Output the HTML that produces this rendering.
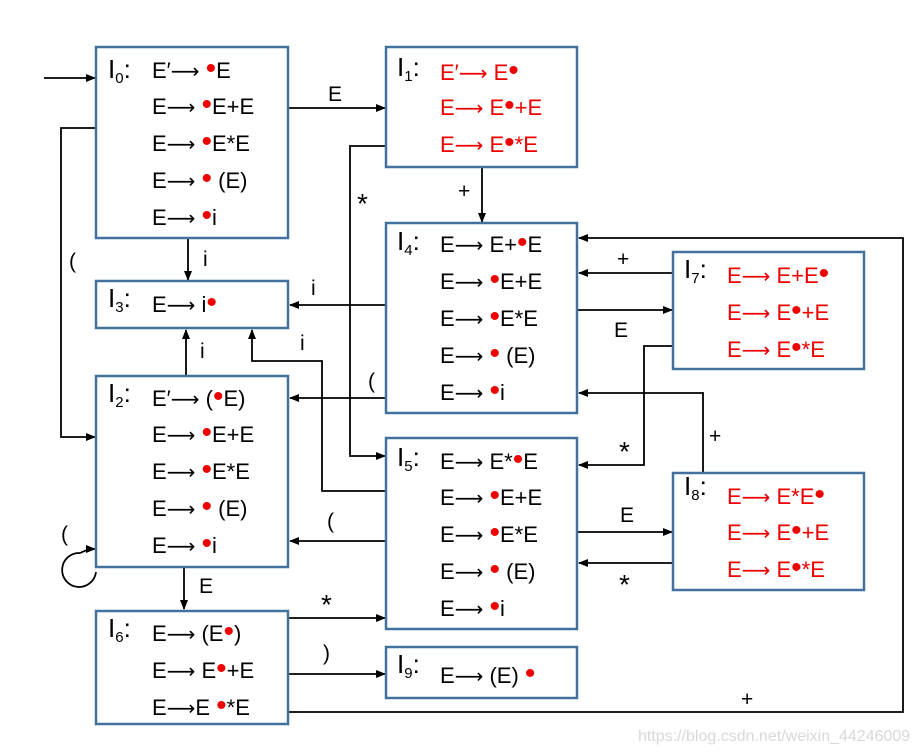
<!DOCTYPE html>
<html><head><meta charset="utf-8"><style>
html,body{margin:0;padding:0;background:#fff;}
svg{display:block;}
text{font-family:"Liberation Sans","DejaVu Sans",sans-serif;font-size:22px;fill:#000;}
.r{fill:#e00;}
.d{font-size:30px;}
.ar{font-family:"DejaVu Sans",sans-serif;font-size:20px;}
.bx{fill:#fff;stroke:#41719c;stroke-width:2.5;}
.ln{fill:none;stroke:#000;stroke-width:1.8;}
.lb{font-size:21px;}
.I{font-size:26px;}
.sub{font-size:15px;}
</style></head><body>
<svg width="919" height="752" viewBox="0 0 919 752" xmlns="http://www.w3.org/2000/svg">
<defs><marker id="a" markerWidth="10" markerHeight="8" refX="9" refY="4" orient="auto" markerUnits="userSpaceOnUse"><path d="M0,0 L10,4 L0,8 z" fill="#000"/></marker></defs>

<g class="ln" marker-end="url(#a)">
<path d="M44,78 H95"/>
<path d="M288,108 H385"/>
<path d="M482,167 V222"/>
<path d="M386,146 H350 V456 H385"/>
<path d="M96,128 H61 V437 H95"/>
<path d="M188,238 V280"/>
<path d="M386,305 H290"/>
<path d="M186,376 V330"/>
<path d="M386,491 H322 V361 H252 V330"/>
<path d="M386,398 H290"/>
<path d="M386,541 H290"/>
<path d="M96,572 A17,17 0 1 1 80,553 Q88,549 95,549"/>
<path d="M184,567 V609"/>
<path d="M288,618 H385"/>
<path d="M288,674 H385"/>
<path d="M288,712 H903 V238 H579"/>
<path d="M673,273 H579"/>
<path d="M578,310 H672"/>
<path d="M673,346 H644 V465 H579"/>
<path d="M703,473 V393 H579"/>
<path d="M578,532 H672"/>
<path d="M673,563 H579"/>
</g>

<text class="lb" x="328" y="101">E</text>
<text class="lb" x="458" y="198">+</text>
<text class="lb" x="357" y="213" style="font-size:28px">*</text>
<text class="lb" x="69" y="268">(</text>
<text class="lb" x="203" y="266">i</text>
<text class="lb" x="311" y="295">i</text>
<text class="lb" x="200" y="358">i</text>
<text class="lb" x="300" y="350">i</text>
<text class="lb" x="368" y="388">(</text>
<text class="lb" x="327" y="528">(</text>
<text class="lb" x="61" y="541">(</text>
<text class="lb" x="199" y="593">E</text>
<text class="lb" x="321" y="614" style="font-size:28px">*</text>
<text class="lb" x="323" y="660">)</text>
<text class="lb" x="741" y="706">+</text>
<text class="lb" x="617" y="266">+</text>
<text class="lb" x="614" y="337">E</text>
<text class="lb" x="619" y="461" style="font-size:28px">*</text>
<text class="lb" x="709" y="443">+</text>
<text class="lb" x="620" y="522">E</text>
<text class="lb" x="619" y="594" style="font-size:28px">*</text>

<rect class="bx" x="96" y="47" width="192" height="191"/>
<rect class="bx" x="386" y="47" width="191" height="120"/>
<rect class="bx" x="96" y="281" width="192" height="47"/>
<rect class="bx" x="386" y="223" width="191" height="190"/>
<rect class="bx" x="96" y="376" width="192" height="191"/>
<rect class="bx" x="386" y="438" width="191" height="191"/>
<rect class="bx" x="96" y="611" width="192" height="113"/>
<rect class="bx" x="386" y="647" width="191" height="51"/>
<rect class="bx" x="673" y="252" width="191" height="117"/>
<rect class="bx" x="673" y="473" width="191" height="117"/>

<!-- I0 -->
<text class="I" x="108" y="78">I<tspan class="sub" dy="5">0</tspan><tspan dy="-5">:</tspan></text>
<text x="152" y="78">E′<tspan class="ar">⟶</tspan> <tspan class="r d">•</tspan>E</text>
<text x="152" y="114">E<tspan class="ar">⟶</tspan> <tspan class="r d">•</tspan>E+E</text>
<text x="152" y="151">E<tspan class="ar">⟶</tspan> <tspan class="r d">•</tspan>E*E</text>
<text x="152" y="188">E<tspan class="ar">⟶</tspan> <tspan class="r d">•</tspan> (E)</text>
<text x="152" y="225">E<tspan class="ar">⟶</tspan> <tspan class="r d">•</tspan>i</text>
<!-- I1 -->
<text class="I" x="397" y="76">I<tspan class="sub" dy="5">1</tspan><tspan dy="-5">:</tspan></text>
<text class="r" x="440" y="80">E′<tspan class="ar">⟶</tspan> E<tspan class="d">•</tspan></text>
<text class="r" x="440" y="115">E<tspan class="ar">⟶</tspan> E<tspan class="d">•</tspan>+E</text>
<text class="r" x="440" y="152">E<tspan class="ar">⟶</tspan> E<tspan class="d">•</tspan>*E</text>
<!-- I3 -->
<text class="I" x="108" y="307">I<tspan class="sub" dy="5">3</tspan><tspan dy="-5">:</tspan></text>
<text x="152" y="312">E<tspan class="ar">⟶</tspan> i<tspan class="r d">•</tspan></text>
<!-- I4 -->
<text class="I" x="397" y="250">I<tspan class="sub" dy="5">4</tspan><tspan dy="-5">:</tspan></text>
<text x="440" y="252">E<tspan class="ar">⟶</tspan> E+<tspan class="r d">•</tspan>E</text>
<text x="440" y="289">E<tspan class="ar">⟶</tspan> <tspan class="r d">•</tspan>E+E</text>
<text x="440" y="326">E<tspan class="ar">⟶</tspan> <tspan class="r d">•</tspan>E*E</text>
<text x="440" y="363">E<tspan class="ar">⟶</tspan> <tspan class="r d">•</tspan> (E)</text>
<text x="440" y="400">E<tspan class="ar">⟶</tspan> <tspan class="r d">•</tspan>i</text>
<!-- I2 -->
<text class="I" x="108" y="402">I<tspan class="sub" dy="5">2</tspan><tspan dy="-5">:</tspan></text>
<text x="152" y="406">E′<tspan class="ar">⟶</tspan> (<tspan class="r d">•</tspan>E)</text>
<text x="152" y="442">E<tspan class="ar">⟶</tspan> <tspan class="r d">•</tspan>E+E</text>
<text x="152" y="479">E<tspan class="ar">⟶</tspan> <tspan class="r d">•</tspan>E*E</text>
<text x="152" y="516">E<tspan class="ar">⟶</tspan> <tspan class="r d">•</tspan> (E)</text>
<text x="152" y="553">E<tspan class="ar">⟶</tspan> <tspan class="r d">•</tspan>i</text>
<!-- I5 -->
<text class="I" x="397" y="466">I<tspan class="sub" dy="5">5</tspan><tspan dy="-5">:</tspan></text>
<text x="440" y="469">E<tspan class="ar">⟶</tspan> E*<tspan class="r d">•</tspan>E</text>
<text x="440" y="505">E<tspan class="ar">⟶</tspan> <tspan class="r d">•</tspan>E+E</text>
<text x="440" y="542">E<tspan class="ar">⟶</tspan> <tspan class="r d">•</tspan>E*E</text>
<text x="440" y="579">E<tspan class="ar">⟶</tspan> <tspan class="r d">•</tspan> (E)</text>
<text x="440" y="616">E<tspan class="ar">⟶</tspan> <tspan class="r d">•</tspan>i</text>
<!-- I6 -->
<text class="I" x="108" y="637">I<tspan class="sub" dy="5">6</tspan><tspan dy="-5">:</tspan></text>
<text x="152" y="641">E<tspan class="ar">⟶</tspan>  (E<tspan class="r d">•</tspan>)</text>
<text x="152" y="678">E<tspan class="ar">⟶</tspan> E<tspan class="r d">•</tspan>+E</text>
<text x="152" y="715">E<tspan class="ar">⟶</tspan>E <tspan class="r d">•</tspan>*E</text>
<!-- I9 -->
<text class="I" x="397" y="673">I<tspan class="sub" dy="5">9</tspan><tspan dy="-5">:</tspan></text>
<text x="440" y="683">E<tspan class="ar">⟶</tspan>  (E) <tspan class="r d">•</tspan></text>
<!-- I7 -->
<text class="I" x="684" y="278">I<tspan class="sub" dy="5">7</tspan><tspan dy="-5">:</tspan></text>
<text class="r" x="727" y="283">E<tspan class="ar">⟶</tspan> E+E<tspan class="d">•</tspan></text>
<text class="r" x="727" y="320">E<tspan class="ar">⟶</tspan> E<tspan class="d">•</tspan>+E</text>
<text class="r" x="727" y="357">E<tspan class="ar">⟶</tspan> E<tspan class="d">•</tspan>*E</text>
<!-- I8 -->
<text class="I" x="684" y="495">I<tspan class="sub" dy="5">8</tspan><tspan dy="-5">:</tspan></text>
<text class="r" x="727" y="504">E<tspan class="ar">⟶</tspan> E*E<tspan class="d">•</tspan></text>
<text class="r" x="727" y="540">E<tspan class="ar">⟶</tspan> E<tspan class="d">•</tspan>+E</text>
<text class="r" x="727" y="577">E<tspan class="ar">⟶</tspan> E<tspan class="d">•</tspan>*E</text>

<text x="638" y="741" style="font-size:16px;fill:#d8d8d8">https://blog.csdn.net/weixin_44246009</text>
</svg>
</body></html>
